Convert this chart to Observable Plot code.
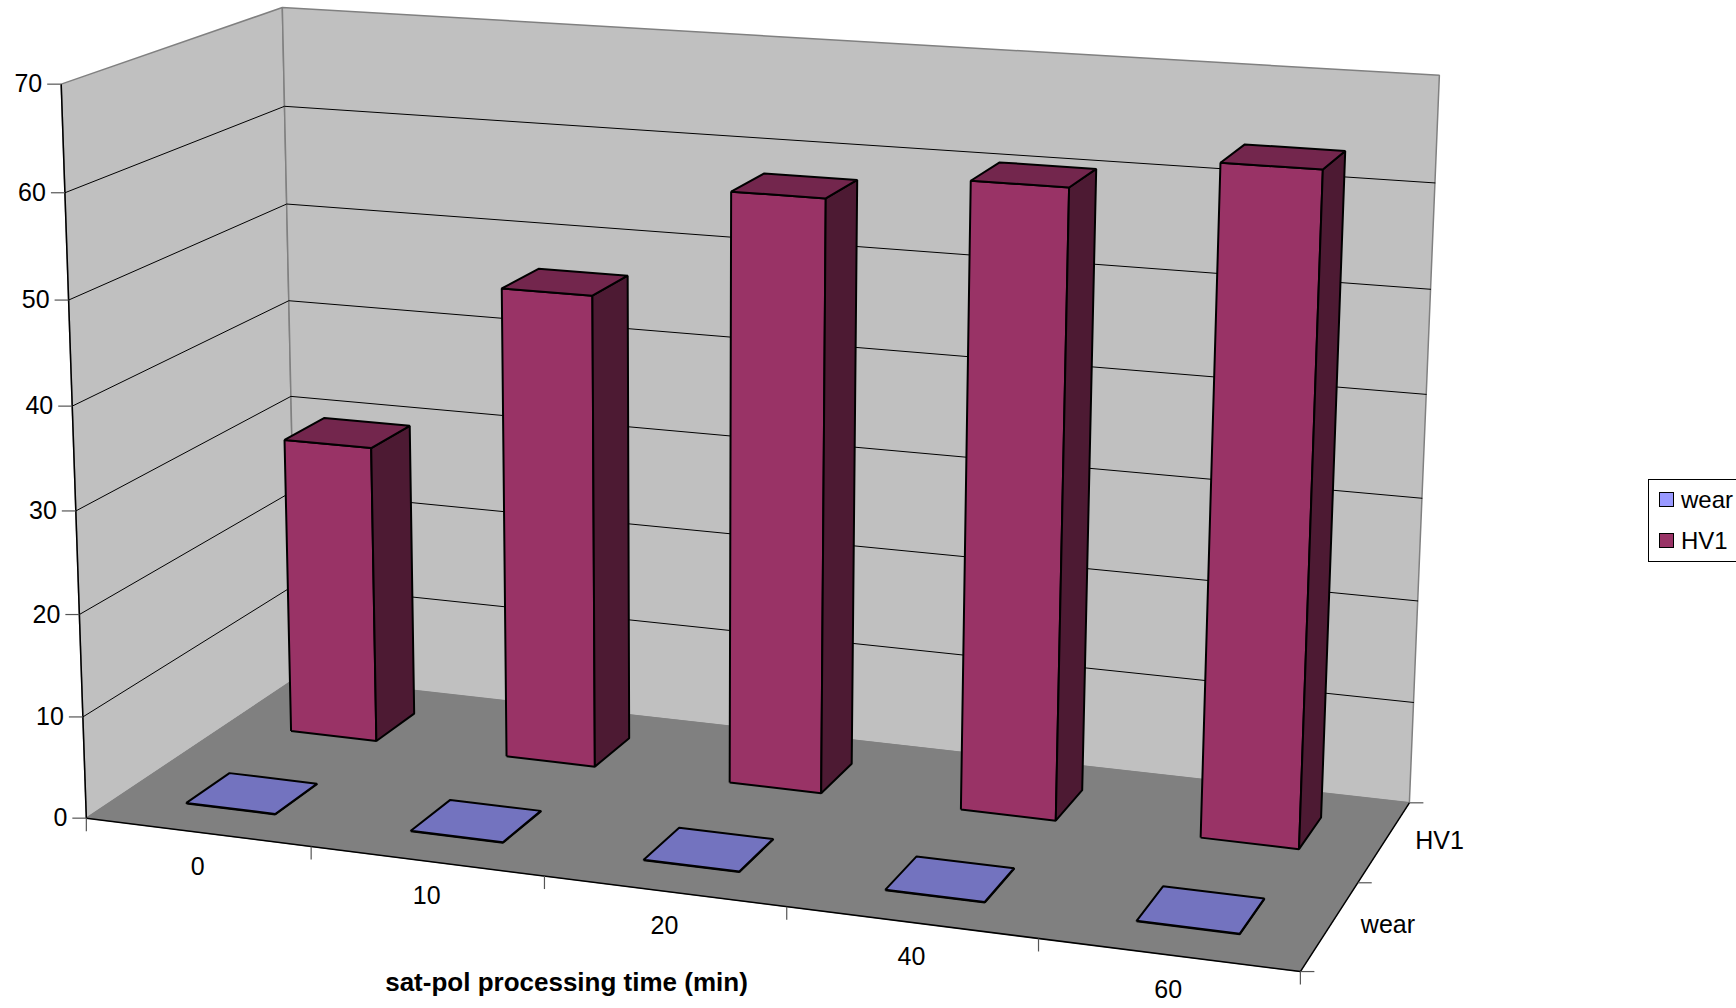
<!DOCTYPE html>
<html><head><meta charset="utf-8">
<script src="https://cdn.jsdelivr.net/npm/d3@7"></script>
<script src="https://cdn.jsdelivr.net/npm/@observablehq/plot@0.6"></script>
<style>
html,body{margin:0;padding:0;background:#fff;overflow:hidden;}
#wrap{position:relative;width:1736px;height:1008px;overflow:hidden;}
#legend{position:absolute;left:1648px;top:479px;width:110px;height:83px;border:1px solid #000;box-sizing:border-box;background:#fff;font-family:"Liberation Sans",Arial,sans-serif;font-size:24px;color:#000;}
#legend .item{position:absolute;left:10px;height:28px;line-height:28px;white-space:nowrap;}
#legend .sw{display:inline-block;width:13px;height:13px;border:1.5px solid #000;vertical-align:middle;margin-right:7px;position:relative;top:-2px;}
</style></head>
<body><div id="wrap"></div>
<script>
// ---------------- data ----------------
const categories = ["0", "10", "20", "40", "60"];
const seriesNames = ["wear", "HV1"];
const wearValues = [0.05, 0.05, 0.05, 0.05, 0.05];
const hv1Values = [30, 47, 58, 60.6, 63.8];
const valueTicks = [0, 10, 20, 30, 40, 50, 60, 70];
const axisTitle = "sat-pol processing time (min)";
const seriesColors = {wear: ["#9999FF", "#7373BF", "#4D4D80"], HV1: ["#993366", "#73264D", "#4D1A33"]}; // front, top, side

// ---------------- layout ----------------
const W = 1736, H = 1008;
const FONT = "'Liberation Sans', Arial, sans-serif";

// library scales to normalized 3D coordinates (u: category, v: value, w: depth)
const catScale = Plot.scale({x: {type: "band", domain: categories, range: [0, 1], padding: 0}});
const serScale = Plot.scale({x: {type: "band", domain: seriesNames, range: [0, 1], padding: 0}});
const valScale = Plot.scale({y: {type: "linear", domain: [0, 70], range: [0, 1]}});
const catBw = catScale.bandwidth ?? 1 / categories.length;
const serBw = serScale.bandwidth ?? 1 / seriesNames.length;

// perspective camera of the 3D frame (calibrated on the box corners)
const frameCalib = [
  [0, 0, 0, 89, 815], [0, 0, 1, 293, 681], [1, 0, 1, 1409, 799], [1, 0, 0, 1298, 973],
  [0, 1, 0, 57.5, 84], [0, 1, 1, 285, 7], [1, 1, 1, 1439, 76],
  [0, 3 / 7, 0, 75, 510], [0, 4 / 7, 1, 288.5, 299], [1, 4 / 7, 1, 1425, 393],
  [0.2, 0, 0, 312, 845], [0.4, 0, 0, 543, 875], [0.6, 0, 0, 786, 907], [0.8, 0, 0, 1039, 940],
  [1, 0, 0.5, 1359, 882]
];
function fitCamera(pts) {
  const s = 1000, rows = [], rhs = [];
  for (const [X, Y, Z, px, py] of pts) {
    const x = px / s, y = py / s;
    rows.push([X, Y, Z, 1, 0, 0, 0, 0, -x * X, -x * Y, -x * Z]); rhs.push(x);
    rows.push([0, 0, 0, 0, X, Y, Z, 1, -y * X, -y * Y, -y * Z]); rhs.push(y);
  }
  const n = 11, M = [];
  for (let i = 0; i < n; i++) {
    const r = new Array(n + 1).fill(0);
    for (let k = 0; k < rows.length; k++) {
      for (let j = 0; j < n; j++) r[j] += rows[k][i] * rows[k][j];
      r[n] += rows[k][i] * rhs[k];
    }
    M.push(r);
  }
  for (let c = 0; c < n; c++) {
    let p = c;
    for (let r = c + 1; r < n; r++) if (Math.abs(M[r][c]) > Math.abs(M[p][c])) p = r;
    const t = M[c]; M[c] = M[p]; M[p] = t;
    for (let r = 0; r < n; r++) {
      if (r === c) continue;
      const f = M[r][c] / M[c][c];
      if (f) for (let k = c; k <= n; k++) M[r][k] -= f * M[c][k];
    }
  }
  const q = M.map((r, i) => r[n] / r[i]);
  return (X, Y, Z) => {
    const w = q[8] * X + q[9] * Y + q[10] * Z + 1;
    return [s * (q[0] * X + q[1] * Y + q[2] * Z + q[3]) / w, s * (q[4] * X + q[5] * Y + q[6] * Z + q[7]) / w];
  };
}
const P = fitCamera(frameCalib);

const poly = (pts, o) => Plot.line([...pts, pts[0]], {x: d => d[0], y: d => d[1], curve: "linear", strokeLinejoin: "miter", strokeLinecap: "butt", ...o});

const marks = [];
// walls
marks.push(poly([P(0, 0, 0), P(0, 0, 1), P(0, 1, 1), P(0, 1, 0)], {fill: "#C0C0C0", stroke: "#808080", strokeWidth: 1.5}));
marks.push(poly([P(0, 0, 1), P(1, 0, 1), P(1, 1, 1), P(0, 1, 1)], {fill: "#C0C0C0", stroke: "#808080", strokeWidth: 1.5}));
// gridlines
for (const t of valueTicks.slice(1, -1)) {
  const v = valScale.apply(t);
  marks.push(Plot.line([P(0, v, 0), P(0, v, 1), P(1, v, 1)], {x: d => d[0], y: d => d[1], stroke: "#000", strokeWidth: 1, curve: "linear"}));
}
// floor
marks.push(poly([P(0, 0, 0), P(1, 0, 0), P(1, 0, 1), P(0, 0, 1)], {fill: "#808080", stroke: "#808080", strokeWidth: 1}));
// axis lines
const axisLines = [[P(0, 0, 0), P(1, 0, 0)], [P(1, 0, 0), P(1, 0, 1)], [P(0, 0, 0), P(0, 1, 0)]];
marks.push(Plot.link(axisLines, {x1: d => d[0][0], y1: d => d[0][1], x2: d => d[1][0], y2: d => d[1][1], stroke: "#000", strokeWidth: 1.5}));
// ticks
const valTickPts = valueTicks.map(t => P(0, valScale.apply(t), 0));
marks.push(Plot.link(valTickPts, {x1: d => d[0] - 14, y1: d => d[1], x2: d => d[0], y2: d => d[1], stroke: "#555", strokeWidth: 1.2}));
const catBounds = [...categories.map(c => catScale.apply(c)), 1];
const catTickPts = catBounds.map(u => P(u, 0, 0));
marks.push(Plot.link(catTickPts, {x1: d => d[0], y1: d => d[1], x2: d => d[0], y2: d => d[1] + 13, stroke: "#555", strokeWidth: 1.2}));
const serBounds = [...seriesNames.map(s => serScale.apply(s)), 1];
const serTickPts = serBounds.map(w => P(1, 0, w));
marks.push(Plot.link(serTickPts, {x1: d => d[0], y1: d => d[1], x2: d => d[0] + 14, y2: d => d[1], stroke: "#555", strokeWidth: 1.2}));

// bars
const seriesValues = {wear: wearValues, HV1: hv1Values};
for (const s of seriesNames) {
  const [cf, ct, cs] = seriesColors[s];
  const Z0 = serScale.apply(s) + serBw * 0.3, Z1 = Z0 + serBw * 0.4;
  categories.forEach((c, i) => {
    const X0 = catScale.apply(c) + catBw * 0.3, X1 = X0 + catBw * 0.4;
    const v = valScale.apply(seriesValues[s][i]);
    const st = {stroke: "#000", strokeWidth: 2};
    marks.push(poly([P(X0, 0, Z0), P(X1, 0, Z0), P(X1, v, Z0), P(X0, v, Z0)], {fill: cf, ...st}));
    marks.push(poly([P(X1, 0, Z0), P(X1, 0, Z1), P(X1, v, Z1), P(X1, v, Z0)], {fill: cs, ...st}));
    marks.push(poly([P(X0, v, Z0), P(X1, v, Z0), P(X1, v, Z1), P(X0, v, Z1)], {fill: ct, ...st}));
  });
}

// labels
marks.push(Plot.text(valueTicks, {x: t => P(0, valScale.apply(t), 0)[0], y: t => P(0, valScale.apply(t), 0)[1], text: t => String(t), textAnchor: "end", dx: -19, fontSize: 25, fill: "#000"}));
marks.push(Plot.text(categories, {x: c => P(catScale.apply(c) + catBw / 2, 0, 0)[0], y: c => P(catScale.apply(c) + catBw / 2, 0, 0)[1], text: c => c, textAnchor: "middle", dy: 35, fontSize: 25, fill: "#000"}));
marks.push(Plot.text(seriesNames, {x: s => P(1, 0, serScale.apply(s) + serBw / 2)[0], y: s => P(1, 0, serScale.apply(s) + serBw / 2)[1], text: s => s, textAnchor: "start", dx: 31, dy: -1, fontSize: 25, fill: "#000"}));
marks.push(Plot.text([axisTitle], {frameAnchor: "top-left", dx: 566, dy: 972, text: d => d, textAnchor: "middle", fontSize: 26, fontWeight: "bold", fill: "#000"}));

const chart = Plot.plot({
  width: W, height: H, margin: 0, axis: null,
  x: {type: "identity"}, y: {type: "identity"},
  style: {fontFamily: FONT, background: "#fff", overflow: "visible"},
  marks
});
const wrap = document.getElementById("wrap");
wrap.appendChild(chart);

// legend
const legend = document.createElement("div");
legend.id = "legend";
seriesNames.forEach((s, i) => {
  const it = document.createElement("div");
  it.className = "item";
  it.style.top = (6 + i * 41) + "px";
  const sw = document.createElement("span");
  sw.className = "sw"; sw.style.background = seriesColors[s][0];
  it.appendChild(sw);
  it.appendChild(document.createTextNode(s));
  legend.appendChild(it);
});
wrap.appendChild(legend);
</script>
</body></html>
